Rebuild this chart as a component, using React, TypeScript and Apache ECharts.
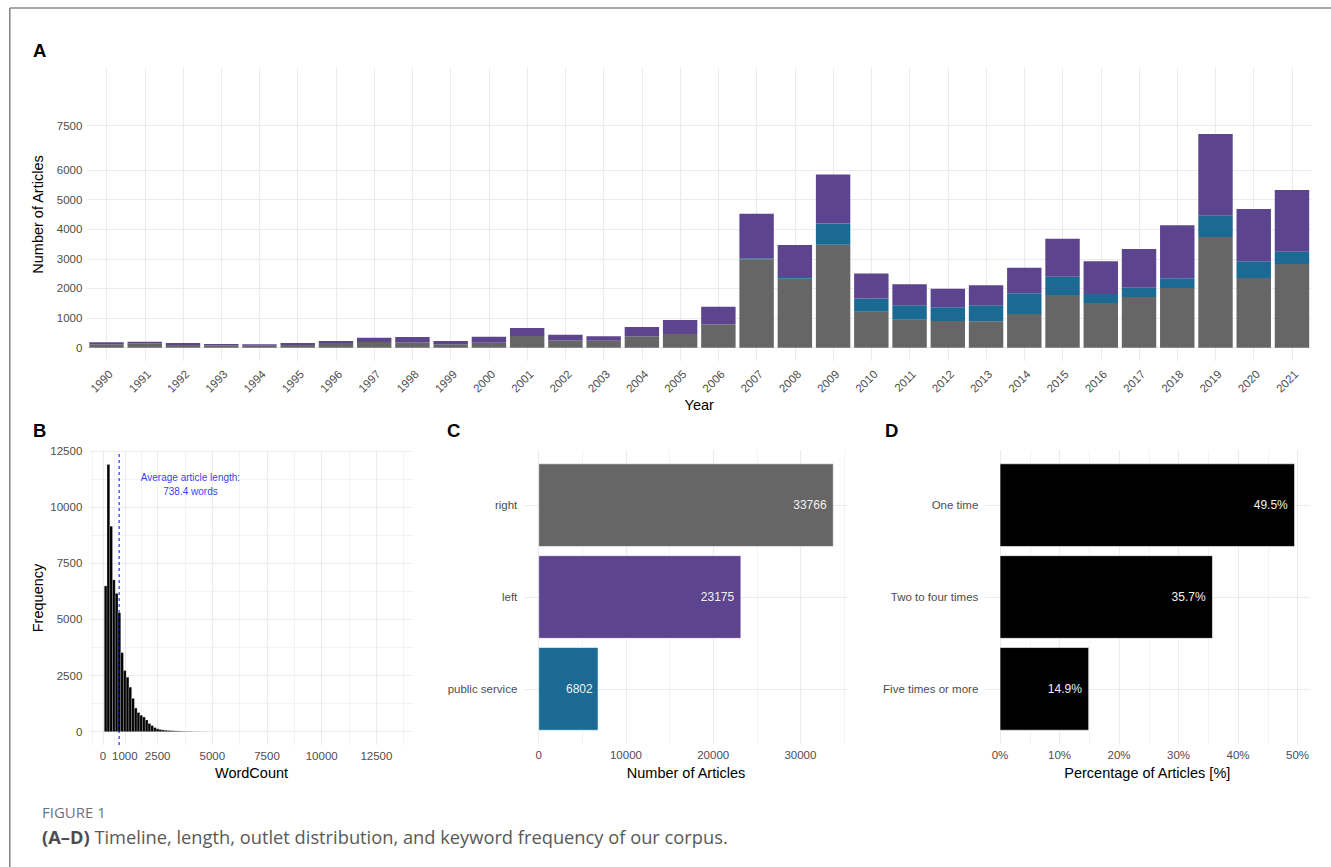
import React, { useEffect, useRef } from "react";
import * as echarts from "echarts";

// ---- Panel A: articles per year, stacked by outlet ----
const years = [
  "1990", "1991", "1992", "1993", "1994", "1995", "1996", "1997", "1998", "1999",
  "2000", "2001", "2002", "2003", "2004", "2005", "2006", "2007", "2008", "2009",
  "2010", "2011", "2012", "2013", "2014", "2015", "2016", "2017", "2018", "2019",
  "2020", "2021",
];
const rightByYear = [
  115, 149, 91, 81, 68, 91, 159, 193, 182, 115,
  169, 395, 250, 237, 385, 463, 790, 2990, 2330, 3480,
  1210, 946, 902, 892, 1138, 1780, 1510, 1713, 2017, 3740,
  2355, 2828,
];
const publicByYear = [
  0, 0, 0, 0, 0, 0, 0, 0, 0, 0,
  0, 0, 0, 0, 0, 0, 0, 30, 60, 720,
  450, 486, 463, 540, 700, 619, 304, 314, 328, 720,
  564, 415,
];
const leftByYear = [
  67, 54, 68, 44, 47, 68, 67, 145, 179, 111,
  203, 270, 189, 148, 314, 473, 595, 1507, 1081, 1655,
  845, 710, 628, 676, 865, 1283, 1105, 1307, 1790, 2760,
  1767, 2085,
];
const yearTicks = [0, 1000, 2000, 3000, 4000, 5000, 6000, 7500];

// ---- Panel B: word count histogram ----
const binStart = 60;
const binWidth = 125;
const binCounts = [
  6490, 11900, 9150, 6760, 6160, 5290, 3520, 2720, 2420, 1980,
  1480, 1050, 850, 730, 650, 520, 360, 270, 180, 125,
  95, 75, 62, 52, 44, 38, 32, 27, 22, 18,
  15, 12, 10, 8, 7, 6, 5, 4, 3, 3,
];
const meanWords = 738.4;
const wordTicks = [0, 1000, 2500, 5000, 7500, 10000, 12500];
const wordMinor = [-500, 500, 1750, 3750, 6250, 8750, 11250, 13750];
const freqTicks = [0, 2500, 5000, 7500, 10000, 12500];
const freqMinor = [1250, 3750, 6250, 8750, 11250];

// ---- Panel C: articles per outlet ----
const outlets = ["public service", "left", "right"];
const outletCounts = [6802, 23175, 33766];
const outletColors = ["#1b6a93", "#5c448e", "#666666"];
const outletTicks = [0, 10000, 20000, 30000];
const outletMinor = [5000, 15000, 25000, 35000];

// ---- Panel D: keyword frequency ----
const freqGroups = ["Five times or more", "Two to four times", "One time"];
const freqShares = [14.9, 35.7, 49.5];
const shareTicks = [0, 10, 20, 30, 40, 50];
const shareMinor = [5, 15, 25, 35, 45];

const FONT = "'Liberation Sans', Arial, Helvetica, sans-serif";
const CAP_FONT = "'Open Sans', 'Noto Sans', sans-serif";
const TICK = { color: "#4d4d4d", fontSize: 11.5, fontFamily: FONT };
const TITLE = { color: "#000000", fontSize: 14.5, fontFamily: FONT };
const GRID_COLOR = "#ebebeb";
const plain = (v: number) => String(v);

const B_Y_MIN = -595;
const B_Y_MAX = 12500;

function guideSeries(
  idx: number,
  xMajor: (number | string)[],
  yMajor: number[],
  xMinor: number[] = [],
  yMinor: number[] = []
) {
  const ls = (w: number) => ({ color: GRID_COLOR, width: w, type: "solid" });
  return {
    type: "line",
    xAxisIndex: idx,
    yAxisIndex: idx,
    data: [],
    z: 0,
    silent: true,
    markLine: {
      z: 0,
      silent: true,
      symbol: ["none", "none"],
      label: { show: false },
      emphasis: { disabled: true },
      animation: false,
      data: [
        ...xMinor.map((v) => ({ xAxis: v, lineStyle: ls(0.6) })),
        ...yMinor.map((v) => ({ yAxis: v, lineStyle: ls(0.6) })),
        ...xMajor.map((v) => ({ xAxis: v, lineStyle: ls(1.1) })),
        ...yMajor.map((v) => ({ yAxis: v, lineStyle: ls(1.1) })),
      ],
    },
  };
}

function labelWidth(text: string, size: number) {
  let em = 0;
  for (const ch of text) em += ch === "." ? 0.278 : ch === "%" ? 0.889 : 0.556;
  return em * size;
}

function hBarSeries(idx: number, values: number[], colors: string[], fmt: (v: number) => string) {
  return {
    type: "custom",
    xAxisIndex: idx,
    yAxisIndex: idx,
    z: 5,
    data: values.map((v, i) => [v, i + 1]),
    encode: { x: 0, y: 1 },
    renderItem: (params: any, api: any) => {
      const v = api.value(0);
      const c = api.value(1);
      const a = api.coord([0, c + 0.45]);
      const b = api.coord([v, c - 0.45]);
      const text = fmt(v);
      const size = 12;
      return {
        type: "group",
        children: [
          {
            type: "rect",
            shape: { x: a[0], y: a[1], width: b[0] - a[0], height: b[1] - a[1] },
            style: { fill: colors[params.dataIndex], stroke: "#ffffff", lineWidth: 0.6 },
          },
          {
            type: "text",
            x: b[0] - 0.2 * labelWidth(text, size),
            y: (a[1] + b[1]) / 2,
            style: {
              text,
              fill: "#f2f2f2",
              fontSize: size,
              fontFamily: FONT,
              align: "right",
              verticalAlign: "middle",
            },
          },
        ],
      };
    },
  };
}

export default function App() {
  const ref = useRef<HTMLDivElement>(null);

  useEffect(() => {
    if (!ref.current) return;
    const chart = echarts.init(ref.current, null, { renderer: "svg" });

    const hist = binCounts.map((c, i) => [binStart + i * binWidth, binStart + (i + 1) * binWidth, c]);
    const hidden = { axisLine: { show: false }, axisTick: { show: false }, splitLine: { show: false } };

    const option: any = {
      animation: false,
      backgroundColor: "#ffffff",
      textStyle: { fontFamily: FONT },
      grid: [
        { left: 87.4, top: 68, width: 1223.7, height: 293 },
        { left: 90, top: 451, width: 323, height: 294 },
        { left: 524, top: 450, width: 324, height: 294 },
        { left: 985.3, top: 450, width: 324, height: 294 },
      ],
      xAxis: [
        {
          gridIndex: 0,
          type: "category",
          data: years,
          ...hidden,
          axisLabel: { ...TICK, rotate: 45, margin: 7, interval: 0, verticalAlign: "top" },
          name: "Year",
          nameLocation: "middle",
          nameGap: 36,
          nameTextStyle: TITLE,
        },
        {
          gridIndex: 1,
          type: "value",
          min: -594,
          max: 14175,
          ...hidden,
          axisTick: { show: false, customValues: wordTicks },
          axisLabel: { ...TICK, margin: 5, customValues: wordTicks, formatter: plain },
          name: "WordCount",
          nameLocation: "middle",
          nameGap: 20,
          nameTextStyle: TITLE,
        },
        {
          gridIndex: 2,
          type: "value",
          min: -1688.3,
          max: 35454.3,
          ...hidden,
          axisTick: { show: false, customValues: outletTicks },
          axisLabel: { ...TICK, margin: 5, customValues: outletTicks, formatter: plain },
          name: "Number of Articles",
          nameLocation: "middle",
          nameGap: 21,
          nameTextStyle: TITLE,
        },
        {
          gridIndex: 3,
          type: "value",
          min: -2.475,
          max: 51.975,
          ...hidden,
          axisTick: { show: false, customValues: shareTicks },
          axisLabel: { ...TICK, margin: 5, customValues: shareTicks, formatter: (v: number) => v + "%" },
          name: "Percentage of Articles [%]",
          nameLocation: "middle",
          nameGap: 21,
          nameTextStyle: TITLE,
        },
      ],
      yAxis: [
        {
          gridIndex: 0,
          type: "value",
          min: -450,
          max: 9450,
          ...hidden,
          axisTick: { show: false, customValues: yearTicks },
          axisLabel: { ...TICK, margin: 5, customValues: yearTicks, formatter: plain },
          name: "Number of Articles",
          nameLocation: "middle",
          nameGap: 42,
          nameTextStyle: TITLE,
        },
        {
          gridIndex: 1,
          type: "value",
          min: B_Y_MIN,
          max: B_Y_MAX,
          ...hidden,
          axisTick: { show: false, customValues: freqTicks },
          axisLabel: { ...TICK, margin: 7.7, customValues: freqTicks, formatter: plain },
          name: "Frequency",
          nameLocation: "middle",
          nameGap: 45,
          nameTextStyle: TITLE,
        },
        {
          gridIndex: 2,
          type: "value",
          min: 0.4,
          max: 3.6,
          ...hidden,
          axisTick: { show: false, customValues: [1, 2, 3] },
          axisLabel: { ...TICK, margin: 6.7, customValues: [1, 2, 3], formatter: (v: number) => outlets[v - 1] },
        },
        {
          gridIndex: 3,
          type: "value",
          min: 0.4,
          max: 3.6,
          ...hidden,
          axisTick: { show: false, customValues: [1, 2, 3] },
          axisLabel: { ...TICK, margin: 7, customValues: [1, 2, 3], formatter: (v: number) => freqGroups[v - 1] },
        },
      ],
      series: [
        guideSeries(0, years, yearTicks),
        {
          type: "bar",
          name: "right",
          stack: "total",
          xAxisIndex: 0,
          yAxisIndex: 0,
          z: 5,
          barCategoryGap: "10%",
          data: rightByYear,
          itemStyle: { color: outletColors[2] },
        },
        {
          type: "bar",
          name: "public service",
          stack: "total",
          xAxisIndex: 0,
          yAxisIndex: 0,
          z: 5,
          barCategoryGap: "10%",
          data: publicByYear,
          itemStyle: { color: outletColors[0] },
        },
        {
          type: "bar",
          name: "left",
          stack: "total",
          xAxisIndex: 0,
          yAxisIndex: 0,
          z: 5,
          barCategoryGap: "10%",
          data: leftByYear,
          itemStyle: { color: outletColors[1] },
        },

        guideSeries(1, wordTicks, freqTicks, wordMinor, freqMinor),
        {
          type: "custom",
          xAxisIndex: 1,
          yAxisIndex: 1,
          z: 5,
          data: hist,
          encode: { x: [0, 1], y: 2 },
          renderItem: (_p: any, api: any) => {
            const a = api.coord([api.value(0), api.value(2)]);
            const b = api.coord([api.value(1), 0]);
            return {
              type: "rect",
              shape: { x: a[0], y: a[1], width: b[0] - a[0], height: b[1] - a[1] },
              style: { fill: "#000000", stroke: "rgba(255,255,255,0.55)", lineWidth: 0.4 },
            };
          },
        },
        // dashed vertical line at the mean word count
        {
          type: "line",
          xAxisIndex: 1,
          yAxisIndex: 1,
          z: 8,
          silent: true,
          showSymbol: false,
          symbol: "none",
          data: [
            [meanWords, B_Y_MIN],
            [meanWords, B_Y_MAX],
          ],
          lineStyle: { color: "#0000ff", type: [3, 3], width: 1 },
          itemStyle: { color: "#0000ff" },
        },
        {
          type: "scatter",
          xAxisIndex: 1,
          yAxisIndex: 1,
          z: 8,
          symbolSize: 0,
          silent: true,
          itemStyle: { color: "#0000ff" },
          data: [[4000, 11000]],
          label: {
            show: true,
            position: "inside",
            formatter: `Average article length:\n${meanWords} words`,
            color: "#0000ff",
            fontSize: 10,
            lineHeight: 14.6,
            fontFamily: FONT,
            align: "center",
          },
        },

        guideSeries(2, outletTicks, [1, 2, 3], outletMinor),
        hBarSeries(2, outletCounts, outletColors, (v) => String(v)),

        guideSeries(3, shareTicks, [1, 2, 3], shareMinor),
        hBarSeries(3, freqShares, ["#000000", "#000000", "#000000"], (v) => v.toFixed(1) + "%"),
      ],
      graphic: [
        { type: "line", shape: { x1: 9.8, y1: 8, x2: 1331, y2: 8 }, style: { stroke: "#8a8a8a", lineWidth: 1.6 } },
        { type: "line", shape: { x1: 9.8, y1: 8, x2: 9.8, y2: 867 }, style: { stroke: "#8a8a8a", lineWidth: 1.6 } },
        ...[
          ["A", 33, 50],
          ["B", 33, 430],
          ["C", 447, 430],
          ["D", 885, 430],
        ].map(([t, x, y]) => ({
          type: "text",
          x,
          y,
          style: {
            text: t,
            fill: "#000000",
            fontSize: 18.5,
            fontWeight: "bold",
            fontFamily: FONT,
            verticalAlign: "middle",
          },
        })),
        {
          type: "text",
          x: 42,
          y: 812,
          style: {
            text: "FIGURE 1",
            fill: "#737373",
            fontSize: 15,
            fontFamily: CAP_FONT,
            verticalAlign: "middle",
          },
        },
        {
          type: "text",
          x: 42,
          y: 836,
          style: {
            text: "{b|(A–D)} Timeline, length, outlet distribution, and keyword frequency of our corpus.",
            fill: "#595959",
            fontSize: 18.3,
            fontFamily: CAP_FONT,
            verticalAlign: "middle",
            rich: {
              b: { fill: "#4d4d4d", fontSize: 18.3, fontWeight: "bold", fontFamily: CAP_FONT },
            },
          },
        },
      ],
    };

    chart.setOption(option);
    return () => chart.dispose();
  }, []);

  return (
    <div
      ref={ref}
      style={{ position: "fixed", left: 0, top: 0, width: 1331, height: 867, background: "#ffffff" }}
    />
  );
}
